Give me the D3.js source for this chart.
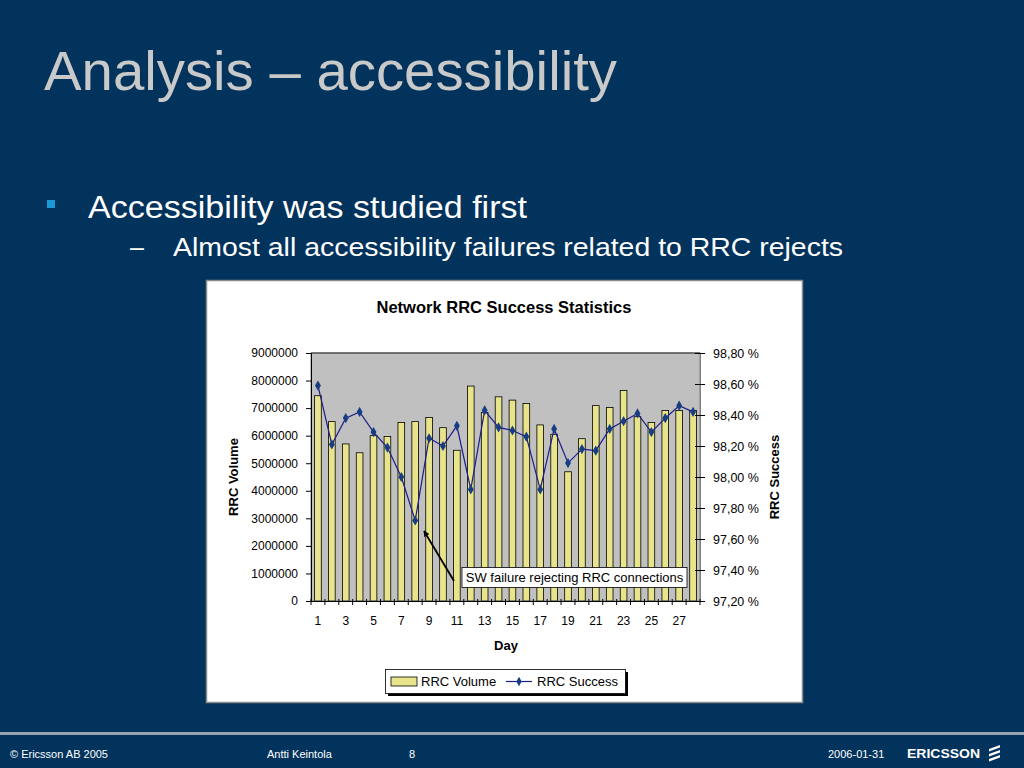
<!DOCTYPE html>
<html><head><meta charset="utf-8">
<script src="https://cdn.jsdelivr.net/npm/d3@7/dist/d3.min.js"></script>
<style>
html,body{margin:0;padding:0;background:#02335c;}
svg{display:block;font-family:"Liberation Sans",Arial,sans-serif;}
</style></head>
<body>
<svg id="c" width="1024" height="768"></svg>
<script>
const days = d3.range(1, 29);
const volume = [7450000,6510000,5700000,5380000,6000000,5970000,6480000,6510000,6660000,6290000,
  5470000,7800000,6840000,7410000,7290000,7170000,6390000,6050000,4690000,5890000,
  7090000,7020000,7640000,6690000,6480000,6910000,6910000,6910000];
const success = [98.59,98.21,98.38,98.42,98.29,98.19,98.00,97.72,98.25,98.20,
  98.33,97.92,98.43,98.32,98.30,98.26,97.92,98.31,98.09,98.18,
  98.17,98.31,98.36,98.41,98.29,98.38,98.46,98.42];
const volumeTicks = d3.range(0, 9000001, 1000000);
const successTicks = [97.2,97.4,97.6,97.8,98.0,98.2,98.4,98.6,98.8];
const dayLabels = days.filter(d => d % 2 === 1);

const svg = d3.select("#c");

// slide text
svg.append("text").attr("x",44).attr("y",90).attr("fill","#c9c9c9")
  .attr("font-size",56).attr("textLength",573).attr("lengthAdjust","spacingAndGlyphs")
  .text("Analysis – accessibility");
svg.append("rect").attr("x",47).attr("y",200).attr("width",8).attr("height",8).attr("fill","#1a9ad6");
svg.append("text").attr("x",88).attr("y",218).attr("fill","#ffffff").attr("font-size",31)
  .attr("textLength",439).attr("lengthAdjust","spacingAndGlyphs")
  .text("Accessibility was studied first");
svg.append("text").attr("x",130).attr("y",256).attr("fill","#ffffff").attr("font-size",25).text("–");
svg.append("text").attr("x",173).attr("y",256).attr("fill","#ffffff").attr("font-size",25)
  .attr("textLength",670).attr("lengthAdjust","spacingAndGlyphs")
  .text("Almost all accessibility failures related to RRC rejects");

// footer
svg.append("rect").attr("x",0).attr("y",732).attr("width",1024).attr("height",3).attr("fill","#9aa3ad");
const ft = [[10,"© Ericsson AB 2005"],[267,"Antti Keintola"],[409,"8"],[828,"2006-01-31"]];
ft.forEach(([x,t]) => svg.append("text").attr("x",x).attr("y",758).attr("fill","#ffffff")
  .attr("font-size",11).text(t));
svg.append("text").attr("x",907).attr("y",758).attr("fill","#ffffff").attr("font-size",13)
  .attr("font-weight","bold").attr("textLength",73).attr("lengthAdjust","spacingAndGlyphs").text("ERICSSON");
const logo = svg.append("g").attr("transform","translate(988,745)");
[0,5,10].forEach(o => logo.append("path").attr("d",`M1 ${o+4} L12 ${o} L12 ${o+2.5} L1 ${o+6.5} Z`).attr("fill","#fff"));

// chart panel
svg.append("rect").attr("x",206.5).attr("y",280.5).attr("width",596).attr("height",422)
  .attr("fill","#ffffff").attr("stroke","#8a8a8a").attr("stroke-width",1.5);
svg.append("text").attr("x",504).attr("y",313).attr("text-anchor","middle").attr("font-size",16.5)
  .attr("font-weight","bold").attr("fill","#000").text("Network RRC Success Statistics");

const L = 311, R = 700, T = 353, B = 601;
const x = d3.scaleBand().domain(days).range([L, R]).paddingInner(0.52).paddingOuter(0.26);
const yL = d3.scaleLinear().domain([0, 9000000]).range([B, T]);
const yR = d3.scaleLinear().domain([97.2, 98.8]).range([B, T]);

svg.append("rect").attr("x",L).attr("y",T).attr("width",R-L).attr("height",B-T)
  .attr("fill","#c0c0c0").attr("stroke","#808080");
svg.append("line").attr("x1",L).attr("x2",R).attr("y1",T).attr("y2",T).attr("stroke","#303030");

// bars
svg.append("g").selectAll("rect").data(days).join("rect")
  .attr("x", d => x(d)).attr("width", x.bandwidth())
  .attr("y", (d,i) => yL(volume[i])).attr("height", (d,i) => B - yL(volume[i]))
  .attr("fill","#e8e48c").attr("stroke","#000").attr("stroke-width",0.8);

// line
const cx = d => x(d) + x.bandwidth()/2;
const line = d3.line().x((d,i) => cx(days[i])).y(d => yR(d));
svg.append("path").datum(success).attr("d", line).attr("fill","none")
  .attr("stroke","#1c1c8c").attr("stroke-width",1.2);
svg.append("g").selectAll("path").data(success).join("path")
  .attr("d", d3.symbol().type(d3.symbolDiamond).size(30))
  .attr("transform",(d,i) => `translate(${cx(days[i])},${yR(d)})`)
  .attr("fill","#173d82");

// axes
const fontAx = s => g => g.selectAll("text").attr("font-size",s).attr("fill","#000")
  .attr("font-family","Liberation Sans, Arial, sans-serif");
const axL = svg.append("g").attr("transform",`translate(${L},0)`)
  .call(d3.axisLeft(yL).tickValues(volumeTicks).tickFormat(d3.format("d")).tickSize(5).tickPadding(8));
axL.call(fontAx(12)); axL.select(".domain").attr("stroke","#000");
const axR = svg.append("g").attr("transform",`translate(${R},0)`)
  .call(d3.axisRight(yR).tickValues(successTicks)
    .tickFormat(d => d3.format(".2f")(d).replace(".", ",") + " %").tickSize(5).tickPadding(8));
axR.call(fontAx(12.5)); axR.select(".domain").attr("stroke","#808080");
axR.selectAll(".tick line").attr("x1",-5).attr("x2",5).attr("stroke","#000");

const xb = d3.scaleLinear().domain([0, days.length]).range([L, R]);
const axB = svg.append("g").attr("transform",`translate(0,${B})`)
  .call(d3.axisBottom(x).tickValues(dayLabels).tickSize(0).tickPadding(15));
axB.call(fontAx(12)); axB.select(".domain").attr("stroke","#000");
svg.append("g").selectAll("line").data(d3.range(0, days.length + 1)).join("line")
  .attr("x1", d => xb(d)).attr("x2", d => xb(d)).attr("y1", B - 2).attr("y2", B + 4)
  .attr("stroke","#000");

svg.append("text").attr("transform","translate(238,477) rotate(-90)").attr("text-anchor","middle")
  .attr("font-size",13).attr("font-weight","bold").text("RRC Volume");
svg.append("text").attr("transform","translate(779,477) rotate(-90)").attr("text-anchor","middle")
  .attr("font-size",13).attr("font-weight","bold").text("RRC Success");
svg.append("text").attr("x",506).attr("y",650).attr("text-anchor","middle")
  .attr("font-size",13).attr("font-weight","bold").text("Day");

// annotation
const defs = svg.append("defs");
defs.append("marker").attr("id","ah").attr("viewBox","0 0 10 10").attr("refX",9).attr("refY",5)
  .attr("markerWidth",6).attr("markerHeight",6).attr("orient","auto").attr("markerUnits","userSpaceOnUse")
  .append("path").attr("d","M0,0 L10,5 L0,10 Z").attr("fill","#000");
svg.append("line").attr("x1",454).attr("y1",581).attr("x2",424).attr("y2",531)
  .attr("stroke","#000").attr("stroke-width",1.8).attr("marker-end","url(#ah)");
svg.append("path").attr("d","M0,0 L10,5 L0,10 Z").attr("fill","#000")
  .attr("transform","translate(424,531) rotate(239) translate(-10,-5) scale(1.1,1)").remove();
svg.append("rect").attr("x",462).attr("y",567.5).attr("width",225).attr("height",20)
  .attr("fill","#fff").attr("stroke","#000").attr("stroke-width",0.8);
svg.append("text").attr("x",574.5).attr("y",582).attr("text-anchor","middle").attr("font-size",13)
  .text("SW failure rejecting RRC connections");

// legend
svg.append("rect").attr("x",388).attr("y",672).attr("width",240).attr("height",24).attr("fill","#000");
svg.append("rect").attr("x",385.5).attr("y",669.5).attr("width",240).attr("height",24)
  .attr("fill","#fff").attr("stroke","#000").attr("stroke-width",0.8);
svg.append("rect").attr("x",391).attr("y",677).attr("width",26).attr("height",9)
  .attr("fill","#e8e48c").attr("stroke","#000").attr("stroke-width",0.8);
svg.append("text").attr("x",421).attr("y",686).attr("font-size",13).text("RRC Volume");
svg.append("line").attr("x1",506).attr("x2",532).attr("y1",681.5).attr("y2",681.5)
  .attr("stroke","#1c1c8c").attr("stroke-width",1.2);
svg.append("path").attr("d", d3.symbol().type(d3.symbolDiamond).size(25))
  .attr("transform","translate(519,681.5)").attr("fill","#173d82");
svg.append("text").attr("x",537).attr("y",686).attr("font-size",13).text("RRC Success");
</script>
</body></html>
